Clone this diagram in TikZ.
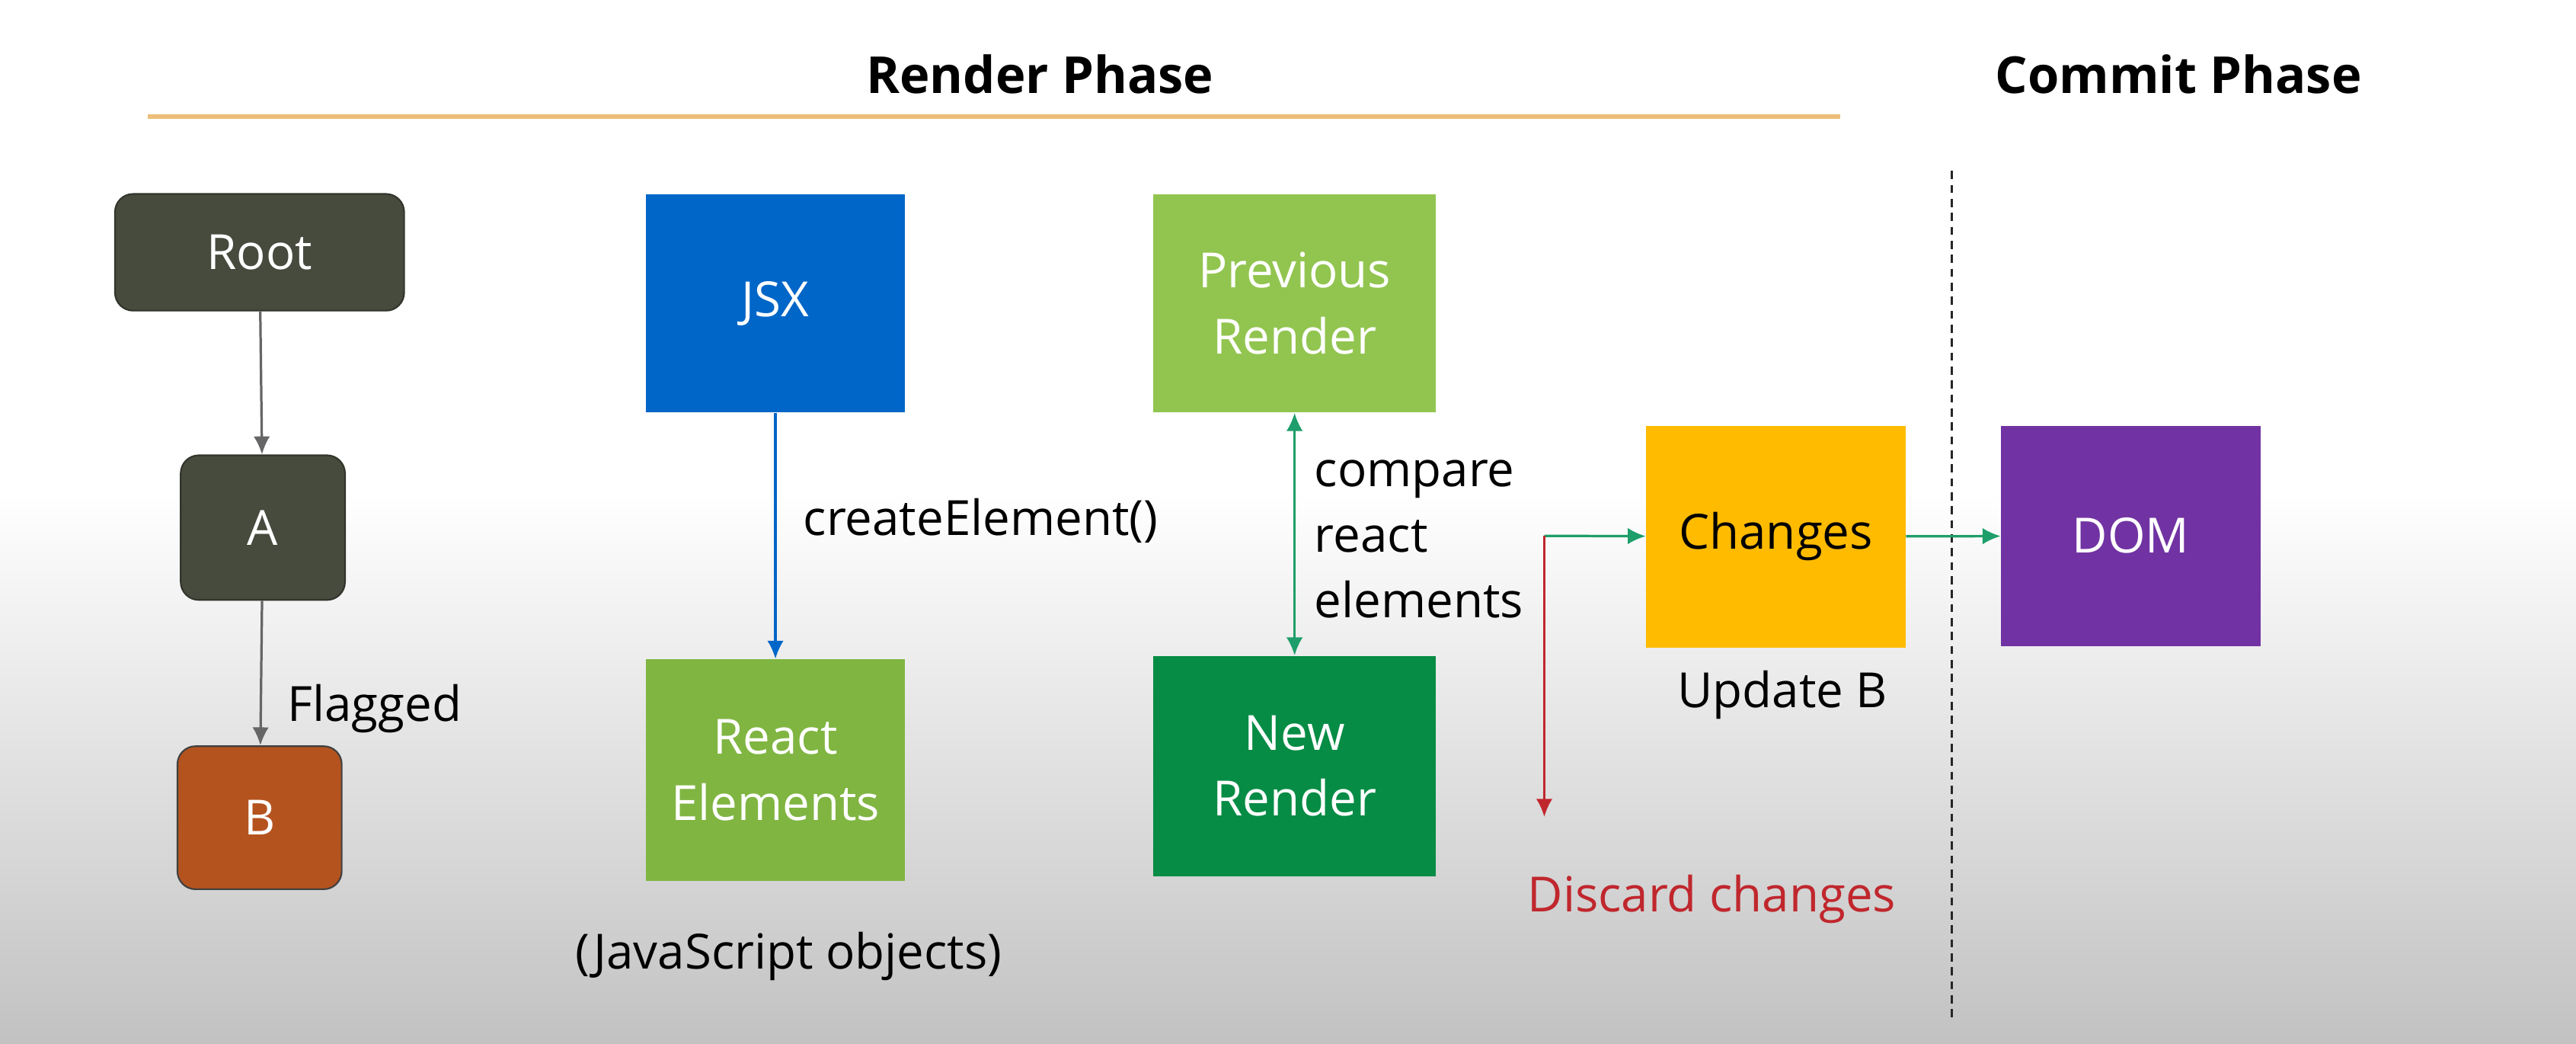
\documentclass[tikz,border=0pt]{standalone}
\usepackage{fontspec}
\setmainfont{Open Sans}
\usetikzlibrary{arrows.meta}

\definecolor{treegray}{HTML}{474B3E}
\definecolor{flagbrown}{HTML}{B5531F}
\definecolor{jsxblue}{HTML}{0066C8}
\definecolor{elemgreen}{HTML}{80B542}
\definecolor{prevgreen}{HTML}{92C550}
\definecolor{newgreen}{HTML}{078C45}
\definecolor{changeyellow}{HTML}{FFBB00}
\definecolor{dompurple}{HTML}{7133A3}
\definecolor{discardred}{HTML}{C0272D}
\definecolor{linkgreen}{HTML}{1E9E6A}
\definecolor{phaseline}{HTML}{EDBE7A}

\tikzset{
  txt/.style={font=\fontsize{29.5}{40}\selectfont, inner sep=0pt},
  heading/.style={txt, font=\bfseries\fontsize{31}{40}\selectfont},
  box/.style={txt, minimum width=158pt, minimum height=134pt, align=center, text=white},
  treebox/.style={box, rounded corners=11pt, fill=treegray, draw=treegray!70!black, line width=1pt},
  note/.style={txt, align=left, text=black},
  link/.style={-{Latex[length=11pt,width=10pt]}, line width=1.5pt},
}

\begin{document}
\begin{tikzpicture}[x=1pt, y=-1pt]
    \useasboundingbox (0,0) rectangle (1568,635);
    % background
    \fill[white] (0,0) rectangle (1568,300);
    \shade[top color=white, bottom color=black!24] (0,300) rectangle (1568,635);
    %
    \draw
    (633,45)node(render)[heading]{Render Phase}
    (1326,45)node(commit)[heading]{Commit Phase}
    (158,153.5)node(root)[treebox, minimum width=176pt, minimum height=71pt]{Root}
    (160,321)node(a)[treebox, minimum width=100pt, minimum height=88pt]{A}
    (158,497.5)node(b)[treebox, fill=flagbrown, draw=black!75, minimum width=100pt, minimum height=87pt]{B}
    (472,184.5)node(jsx)[box, fill=jsxblue, minimum height=133pt]{JSX}
    (472,468.5)node(elements)[box, fill=elemgreen, minimum height=135pt]{React\\Elements}
    (788,184.5)node(prev)[box, fill=prevgreen, minimum width=172pt, minimum height=133pt]{Previous\\Render}
    (788,466)node(new)[box, fill=newgreen, minimum width=172pt]{New\\Render}
    (1081,326.5)node(changes)[box, fill=changeyellow, text=black, minimum height=135pt]{Changes}
    (1297,326)node(dom)[box, fill=dompurple]{DOM};
    %
    \draw
    (228,431)node(flagged)[note]{Flagged}
    (597,317)node(create)[note]{createElement()}
    (480,582)node(jsobj)[note]{(JavaScript objects)}
    (800,328)node(compare)[note, anchor=west]{compare\\react\\elements}
    (1085,423)node(update)[note]{Update B}
    (1042,547)node(discard)[note, text=discardred]{Discard changes};
    %
    \coordinate (split) at (940,326);
    \coordinate (drop) at (940,497);
    %
    \draw[phaseline, line width=3pt] (90,71) -- (1120,71);
    \draw[black!85, line width=1.6pt, dash pattern=on 5pt off 3.5pt] (1188,104) -- (1188,620);
    %
    \draw [link, black!60](root)--(a);
    \draw [link, black!60](a)--(b);
    \draw [link, jsxblue](jsx)--(elements);
    \draw [link, linkgreen, {Latex[length=11pt,width=10pt]}-{Latex[length=11pt,width=10pt]}](prev)--(new);
    \draw [link, linkgreen](split)--(changes);
    \draw [link, discardred](split)--(drop);
    \draw [link, linkgreen](changes)--(dom);
\end{tikzpicture}
\end{document}
